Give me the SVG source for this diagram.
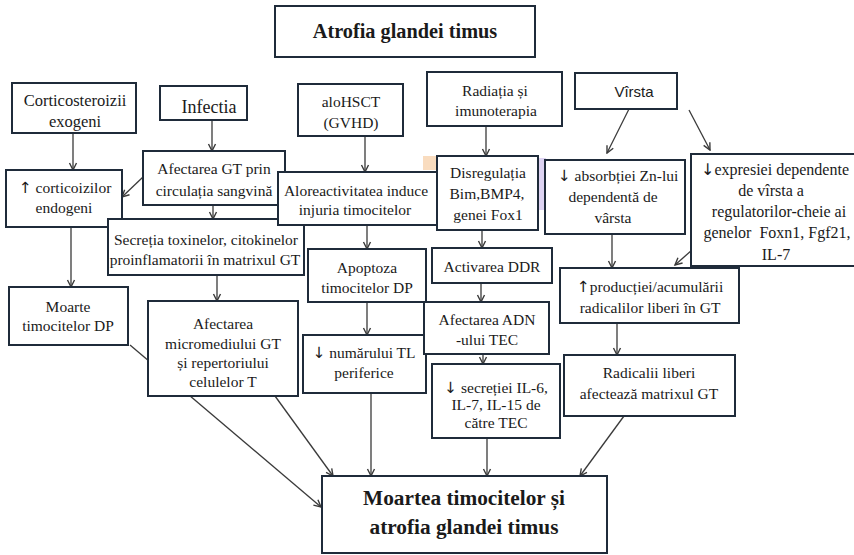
<svg xmlns="http://www.w3.org/2000/svg" width="854" height="555" viewBox="0 0 854 555">
<defs>
<marker id="ah" markerUnits="userSpaceOnUse" markerWidth="10" markerHeight="10" refX="8.5" refY="5" orient="auto">
<path d="M1.5,1.5 L8.5,5 L1.5,8.5" fill="none" stroke="#3a3a3a" stroke-width="1.4"/>
</marker>
<style>
.b{fill:#fff;stroke:#1f2b3a;stroke-width:2}
.t{font-family:"Liberation Serif","Times New Roman",serif;font-size:15.5px;fill:#1a1a1a;text-anchor:middle}
.s16{font-size:16.5px}
.s16b{font-size:16px}
.big{font-size:18px}
.sans{font-family:"Liberation Sans",Arial,sans-serif;font-size:15px}
.h{font-weight:bold;font-size:20.3px}
.hf{font-weight:bold;font-size:21.3px}
.ar{font-family:"DejaVu Sans",sans-serif;font-weight:normal;fill:#1a1a1a}
.c line{stroke:#3a3a3a;stroke-width:1.3;marker-end:url(#ah)}
</style>
</defs>
<rect width="854" height="555" fill="#fff"/>
<g id="decor">
<rect x="423" y="156" width="16" height="14" fill="#f9dcbf"/>
<rect x="536" y="158" width="10" height="52" fill="#ddd3f2"/>
</g>
<g class="c" id="connectors">
<line x1="73" y1="133" x2="73" y2="170"/>
<line x1="212" y1="120" x2="212" y2="151"/>
<line x1="143" y1="177" x2="122" y2="197"/>
<line x1="213" y1="205" x2="213" y2="219"/>
<line x1="71" y1="227" x2="71" y2="287"/>
<line x1="217" y1="275" x2="217" y2="301"/>
<line x1="365" y1="136" x2="365" y2="172"/>
<line x1="367" y1="225" x2="367" y2="249"/>
<line x1="367" y1="302" x2="367" y2="335"/>
<line x1="486" y1="126" x2="486" y2="156"/>
<line x1="482" y1="230" x2="482" y2="248"/>
<line x1="481" y1="283" x2="481" y2="302"/>
<line x1="483" y1="354" x2="483" y2="364"/>
<line x1="629" y1="109" x2="607" y2="153"/>
<line x1="689" y1="110" x2="710" y2="150"/>
<line x1="612" y1="234" x2="612" y2="268"/>
<line x1="692" y1="250" x2="675" y2="265"/>
<line x1="617" y1="323" x2="617" y2="355"/>
<line x1="130" y1="345" x2="321" y2="507"/>
<line x1="275" y1="396" x2="333" y2="476"/>
<line x1="371" y1="393" x2="371" y2="476"/>
<line x1="487" y1="438" x2="487" y2="476"/>
<line x1="624" y1="416" x2="580" y2="476"/>
</g>
<g id="n-title"><rect class="b" x="275" y="6" width="260" height="51"/><text class="t h" x="405" y="38">Atrofia glandei timus</text></g>
<g id="n-cortico"><rect class="b" x="12" y="83" width="124" height="50"/><text class="t s16" x="75" y="106">Corticosteroizii</text><text class="t s16" x="75" y="127">exogeni</text></g>
<g id="n-infectia"><rect class="b" x="160" y="86" width="87" height="34"/><text class="t big" x="209" y="113">Infectia</text></g>
<g id="n-afect-gt"><rect class="b" x="143" y="151" width="142" height="54"/><text class="t" x="214" y="174">Afectarea GT prin</text><text class="t" x="214" y="196">circulația sangvină</text></g>
<g id="n-cortic-endo"><rect class="b" x="6" y="170" width="116" height="57"/><text class="t" x="65" y="193"><tspan class="ar">↑</tspan> corticoizilor</text><text class="t" x="64" y="213">endogeni</text></g>
<g id="n-alohsct"><rect class="b" x="298" y="84" width="105" height="52"/><text class="t" x="351" y="107">aloHSCT</text><text class="t" x="351" y="128">(GVHD)</text></g>
<g id="n-secretia"><rect class="b" x="108" y="219" width="196" height="56"/><text class="t" x="206" y="245">Secreția toxinelor, citokinelor</text><text class="t" x="205" y="265">proinflamatorii în matrixul GT</text></g>
<g id="n-alore"><rect class="b" x="278" y="172" width="159" height="53"/><text class="t" x="356" y="196">Aloreactivitatea induce</text><text class="t" x="355" y="215">injuria timocitelor</text></g>
<g id="n-radiatia"><rect class="b" x="427" y="72" width="135" height="54"/><text class="t" x="495" y="96">Radiația și</text><text class="t" x="496" y="116">imunoterapia</text></g>
<g id="n-disreg"><rect class="b" x="437" y="156" width="101" height="74"/><text class="t" x="488" y="178">Disregulația</text><text class="t" x="487" y="199">Bim,BMP4,</text><text class="t" x="488" y="220">genei Fox1</text></g>
<g id="n-virsta"><rect class="b" x="575" y="73" width="102" height="36"/><text class="t sans" x="634" y="97">Vîrsta</text></g>
<g id="n-zn"><rect class="b" x="545" y="160" width="140" height="74"/><text class="t" x="618" y="181"><tspan class="ar">↓</tspan> absorbției Zn-lui</text><text class="t" x="613" y="202">dependentă de</text><text class="t" x="613" y="223">vârsta</text></g>
<g id="n-expr"><rect class="b" x="691" y="154" width="176" height="112"/><text class="t s16b" x="775" y="175"><tspan class="ar">↓</tspan>expresiei dependente</text><text class="t s16b" x="771" y="196">de vîrsta a</text><text class="t s16b" x="779" y="217">regulatorilor-cheie ai</text><text class="t s16b" x="777" y="238" xml:space="preserve">genelor  Foxn1, Fgf21,</text><text class="t s16b" x="776" y="260">IL-7</text></g>
<g id="n-moarte-dp"><rect class="b" x="9" y="287" width="119" height="58"/><text class="t" x="68" y="312">Moarte</text><text class="t" x="68" y="331">timocitelor DP</text></g>
<g id="n-afect-micro"><rect class="b" x="148" y="301" width="150" height="95"/><text class="t" x="223" y="329">Afectarea</text><text class="t" x="223" y="349">micromediului GT</text><text class="t" x="223" y="368">și repertoriului</text><text class="t" x="223" y="387">celulelor T</text></g>
<g id="n-apoptoza"><rect class="b" x="308" y="249" width="118" height="53"/><text class="t" x="367" y="273">Apoptoza</text><text class="t" x="367" y="293">timocitelor DP</text></g>
<g id="n-numar"><rect class="b" x="303" y="335" width="123" height="58"/><text class="t" x="364" y="358"><tspan class="ar">↓</tspan> numărului TL</text><text class="t" x="364" y="378">periferice</text></g>
<g id="n-ddr"><rect class="b" x="432" y="248" width="120" height="35"/><text class="t" x="492" y="272">Activarea DDR</text></g>
<g id="n-adn"><rect class="b" x="424" y="302" width="125" height="52"/><text class="t" x="487" y="325">Afectarea ADN</text><text class="t" x="487" y="345">-ului TEC</text></g>
<g id="n-secr-il"><rect class="b" x="432" y="364" width="128" height="74"/><text class="t" x="496" y="393"><tspan class="ar">↓</tspan> secreției IL-6,</text><text class="t" x="496" y="410">IL-7, IL-15 de</text><text class="t" x="496" y="428">către TEC</text></g>
<g id="n-productie"><rect class="b" x="560" y="268" width="179" height="55"/><text class="t" x="650" y="292"><tspan class="ar">↑</tspan>producției/acumulării</text><text class="t" x="650" y="313">radicalilor liberi în GT</text></g>
<g id="n-radicalii"><rect class="b" x="564" y="355" width="171" height="61"/><text class="t" x="649" y="378">Radicalii liberi</text><text class="t" x="649" y="399">afectează matrixul GT</text></g>
<g id="n-final"><rect class="b" x="322" y="476" width="285" height="77"/><text class="t hf" x="464" y="505">Moartea timocitelor și</text><text class="t hf" x="464" y="534">atrofia glandei timus</text></g>
</svg>
